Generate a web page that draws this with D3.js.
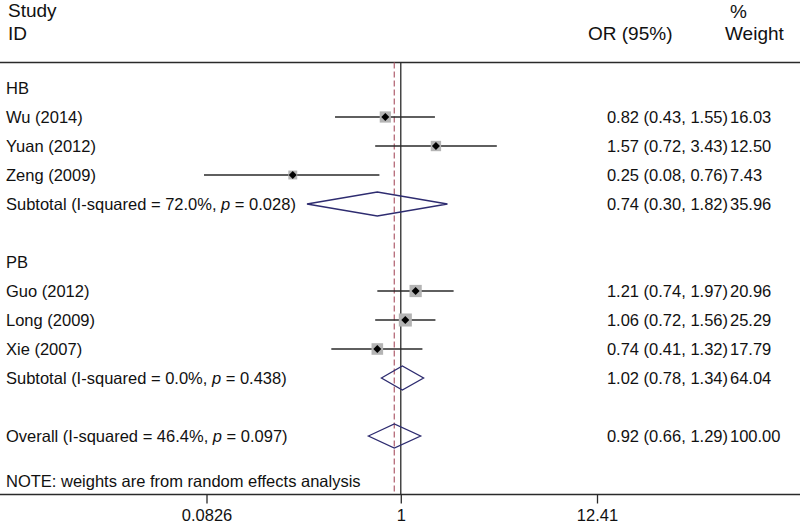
<!DOCTYPE html>
<html>
<head>
<meta charset="utf-8">
<script src="https://cdn.jsdelivr.net/npm/d3@7"></script>
<style>
  html, body { margin: 0; padding: 0; background: #fff; }
  svg { display: block; }
  text { font-family: "Liberation Sans", Arial, Helvetica, sans-serif; fill: #111; }
</style>
</head>
<body>
<svg id="chart" width="800" height="525"></svg>
<script>
// ---------- data ----------
const groupNames = ["HB", "PB"];
const groupRows = [0, 6];

const studyNames = ["Wu (2014)", "Yuan (2012)", "Zeng (2009)", "Guo (2012)", "Long (2009)", "Xie (2007)"];
const studyRows = [1, 2, 3, 7, 8, 9];
const studyOR = [0.82, 1.57, 0.25, 1.21, 1.06, 0.74];
const studyLow = [0.43, 0.72, 0.08, 0.74, 0.72, 0.41];
const studyHigh = [1.55, 3.43, 0.76, 1.97, 1.56, 1.32];
const studyWeight = ["16.03", "12.50", "7.43", "20.96", "25.29", "17.79"];

const summaryNames = ["Subtotal", "Subtotal", "Overall"];
const summaryI2 = ["72.0%", "0.0%", "46.4%"];
const summaryP = ["0.028", "0.438", "0.097"];
const summaryRows = [4, 10, 12];
const summaryOR = [0.74, 1.02, 0.92];
const summaryLow = [0.30, 0.78, 0.66];
const summaryHigh = [1.82, 1.34, 1.29];
const summaryWeight = ["35.96", "64.04", "100.00"];

const tickValues = [0.0826, 1, 12.41];
const tickLabels = ["0.0826", "1", "12.41"];
const overallOR = 0.92;
const noteText = "NOTE: weights are from random effects analysis";

// ---------- layout ----------
const W = 800, H = 525;
const svg = d3.select("#chart");
const x = d3.scaleLog().domain([tickValues[0], tickValues[2]]).range([206.5, 597]);
const y = d3.scaleLinear().domain([0, 12]).range([88, 436]);
const topLineY = 62.5, axisY = 494.5;
const bodyFont = 16.5, headFont = 19;
const fmt = d3.format(".2f");
const ink = "#2a2a2a";
const orEndX = 728, weightX = 730;

// headers
const head = svg.append("g").attr("font-size", headFont);
head.append("text").attr("x", 8).attr("y", 10).attr("dy", "0.35em").text("Study");
head.append("text").attr("x", 8).attr("y", 33).attr("dy", "0.35em").text("ID");
head.append("text").attr("x", 588).attr("y", 33).attr("dy", "0.35em").text("OR (95%)");
head.append("text").attr("x", 730).attr("y", 11).attr("dy", "0.35em").text("%");
head.append("text").attr("x", 725).attr("y", 33).attr("dy", "0.35em").text("Weight");

// horizontal rules
svg.append("line").attr("x1", 0).attr("x2", W).attr("y1", topLineY).attr("y2", topLineY)
  .attr("stroke", ink).attr("stroke-width", 1.3);

// null line and overall dashed line
svg.append("line").attr("x1", x(1)).attr("x2", x(1)).attr("y1", topLineY).attr("y2", axisY)
  .attr("stroke", ink).attr("stroke-width", 1.3);
svg.append("line").attr("x1", x(overallOR)).attr("x2", x(overallOR)).attr("y1", topLineY).attr("y2", axisY)
  .attr("stroke", "#b56a78").attr("stroke-width", 1.3).attr("stroke-dasharray", "6,3");

// axis
const axis = d3.axisBottom(x).tickValues(tickValues).tickFormat((d, i) => tickLabels[i]).tickSize(9).tickPadding(6);
const axG = svg.append("g").attr("transform", `translate(0,${axisY})`).call(axis);
axG.select(".domain").remove();
axG.selectAll(".tick line").attr("stroke", ink).attr("stroke-width", 1.3);
axG.selectAll(".tick text").attr("font-size", bodyFont).attr("font-family", "Liberation Sans, Arial, sans-serif").attr("fill", "#111");
svg.append("line").attr("x1", 0).attr("x2", W).attr("y1", axisY).attr("y2", axisY)
  .attr("stroke", ink).attr("stroke-width", 1.3);

const body = svg.append("g").attr("font-size", bodyFont);

// group labels
groupNames.forEach((g, i) => {
  body.append("text").attr("x", 6).attr("y", y(groupRows[i])).attr("dy", "0.35em").text(g);
});

// studies
studyNames.forEach((n, i) => {
  const yy = y(studyRows[i]);
  body.append("text").attr("x", 6).attr("y", yy).attr("dy", "0.35em").text(n);
  svg.append("line").attr("x1", x(studyLow[i])).attr("x2", x(studyHigh[i])).attr("y1", yy).attr("y2", yy)
    .attr("stroke", ink).attr("stroke-width", 1.3);
  const s = 4 + 1.8 * Math.sqrt(+studyWeight[i]);
  svg.append("rect").attr("x", x(studyOR[i]) - s / 2).attr("y", yy - s / 2).attr("width", s).attr("height", s)
    .attr("fill", "#b4b4b4");
  const d = 4;
  const cx = x(studyOR[i]);
  svg.append("path").attr("d", `M${cx - d},${yy}L${cx},${yy - d}L${cx + d},${yy}L${cx},${yy + d}Z`).attr("fill", "#000");
  body.append("text").attr("x", orEndX).attr("y", yy).attr("dy", "0.35em").attr("text-anchor", "end")
    .text(`${fmt(studyOR[i])} (${fmt(studyLow[i])}, ${fmt(studyHigh[i])})`);
  body.append("text").attr("x", weightX).attr("y", yy).attr("dy", "0.35em").text(studyWeight[i]);
});

// summaries
summaryNames.forEach((n, i) => {
  const yy = y(summaryRows[i]);
  const t = body.append("text").attr("x", 6).attr("y", yy).attr("dy", "0.35em");
  t.append("tspan").text(`${n} (I-squared = ${summaryI2[i]}, `);
  t.append("tspan").attr("font-style", "italic").text("p");
  t.append("tspan").text(` = ${summaryP[i]})`);
  const h = 12;
  const xl = x(summaryLow[i]), xc = x(summaryOR[i]), xr = x(summaryHigh[i]);
  svg.append("path").attr("d", `M${xl},${yy}L${xc},${yy - h}L${xr},${yy}L${xc},${yy + h}Z`)
    .attr("fill", "none").attr("stroke", "#2e2c70").attr("stroke-width", 1.3);
  body.append("text").attr("x", orEndX).attr("y", yy).attr("dy", "0.35em").attr("text-anchor", "end")
    .text(`${fmt(summaryOR[i])} (${fmt(summaryLow[i])}, ${fmt(summaryHigh[i])})`);
  body.append("text").attr("x", weightX).attr("y", yy).attr("dy", "0.35em").text(summaryWeight[i]);
});

// note
body.append("text").attr("x", 6).attr("y", 481).attr("dy", "0.35em").text(noteText);
</script>
</body>
</html>
